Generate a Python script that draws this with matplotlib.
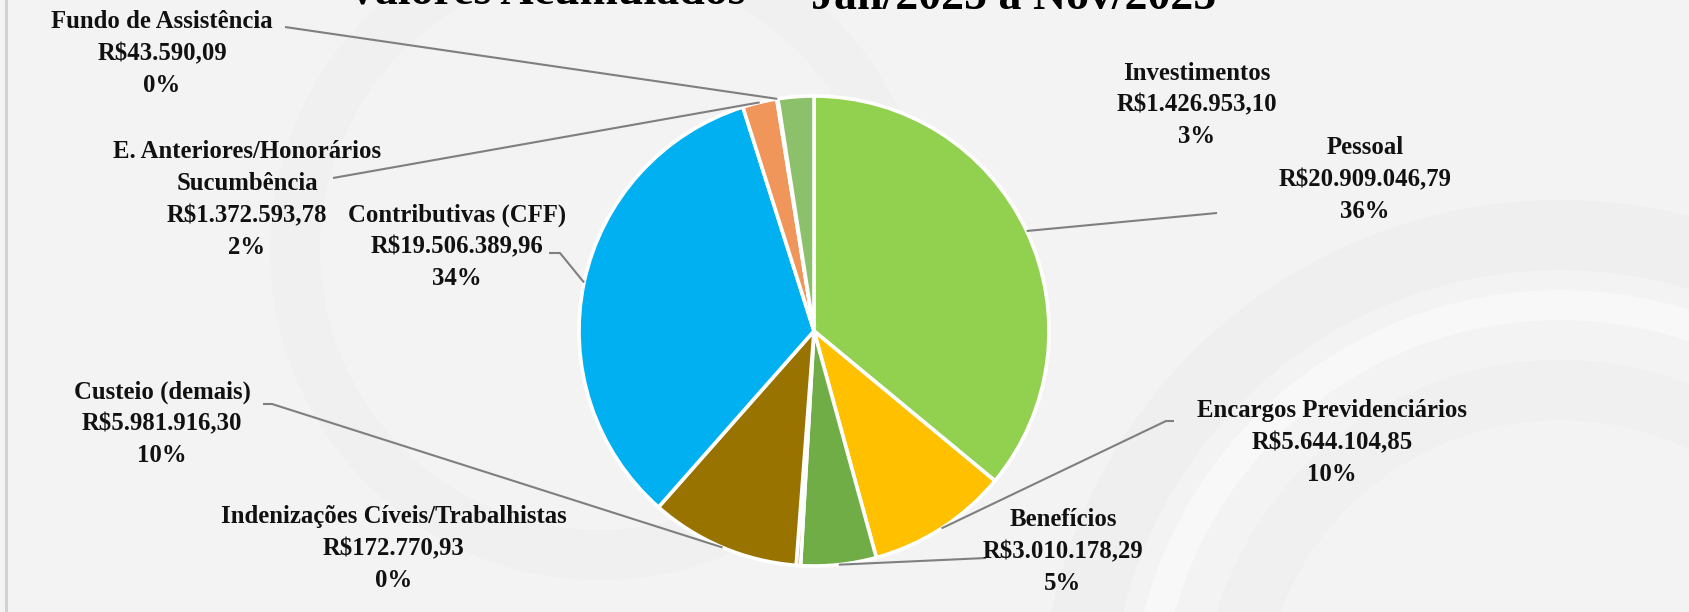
import matplotlib
matplotlib.use("Agg")
import matplotlib.pyplot as plt
from matplotlib.patches import Wedge
import numpy as np

# ---------------- data ----------------
categories = ["Pessoal", "Encargos Previdenciários", "Benefícios",
              "Indenizações Cíveis/Trabalhistas", "Custeio (demais)",
              "Contributivas (CFF)", "E. Anteriores/Honorários\nSucumbência",
              "Fundo de Assistência", "Investimentos"]
values = [20909046.79, 5644104.85, 3010178.29, 172770.93, 5981916.30,
          19506389.96, 1372593.78, 43590.09, 1426953.10]
value_labels = ["R$20.909.046,79", "R$5.644.104,85", "R$3.010.178,29",
                "R$172.770,93", "R$5.981.916,30", "R$19.506.389,96",
                "R$1.372.593,78", "R$43.590,09", "R$1.426.953,10"]
pct_labels = ["36%", "10%", "5%", "0%", "10%", "34%", "2%", "0%", "3%"]
colors = ["#92D050", "#FFC000", "#70AD47", "#D9825B", "#997300",
          "#00B0F0", "#F0965A", "#A9C48A", "#8CC06A"]
title_part1 = "Valores Acumulados –"
title_part2 = "Jan/2025 a Nov/2025"

W, H = 1689, 612
fig = plt.figure(figsize=(W / 100, H / 100), dpi=100)
fig.patch.set_facecolor("#F4F3F4")
ax = fig.add_axes([0, 0, 1, 1])
ax.set_xlim(0, W)
ax.set_ylim(0, H)
ax.set_aspect("equal")
ax.axis("off")

def Y(py):
    return H - py

# ---- faint watermark shapes ----
for (cx, cy, r, w, c) in [(1560, 720, 520, 70, "#EFEFF0"), (1560, 720, 430, 30, "#F8F8F8"),
                          (1560, 720, 360, 60, "#F0F0F1"), (600, 250, 330, 50, "#F0F0F0")]:
    ax.add_patch(Wedge((cx, Y(cy)), r, 0, 360, width=w, facecolor=c,
                       edgecolor="none", zorder=0))
ax.plot([6, 6], [0, H], color="#D2D2D2", lw=2.2, zorder=1)

# ---- pie ----
center = (814, Y(331))
radius = 235
wedges, _ = ax.pie(values, colors=colors, startangle=90, counterclock=False,
                   center=center, radius=radius, frame=True,
                   wedgeprops=dict(edgecolor="white", linewidth=2.6))
for w in wedges:
    w.set_zorder(3)
ax.set_xlim(0, W)
ax.set_ylim(0, H)
ax.axis("off")

def edge_point(i):
    w = wedges[i]
    a = np.deg2rad((w.theta1 + w.theta2) / 2)
    return center[0] + radius * np.cos(a), center[1] + radius * np.sin(a)

fp = dict(family=["Liberation Serif", "DejaVu Serif"], fontweight="bold",
          fontsize=17.8, color="#111111")

# label layout: (center x, y of first line) in pixels, leader path
layout = {
    0: ((1365, 148), [(1217, 213)]),
    1: ((1332, 411), [(1174, 421), (1166, 421)]),
    2: ((1063, 520), [(986, 558)]),
    3: ((394, 517), None),
    4: ((162, 392), [(263, 404), (272, 404)]),
    5: ((457, 215), [(549, 253), (560, 253)]),
    6: ((247, 152), [(333, 178)]),
    7: ((162, 22), [(285, 27)]),
    8: ((1197, 73), None),
}
lh = 31.8
for i, cat in enumerate(categories):
    (tx, ty), path = layout[i]
    lines = cat.split("\n") + [value_labels[i], pct_labels[i]]
    for k, s in enumerate(lines):
        ax.text(tx, Y(ty + k * lh), s, ha="center", va="center", zorder=5, **fp)
    if path:
        xs = [p[0] for p in path]
        ys = [Y(p[1]) for p in path]
        ex, ey = edge_point(i)
        xs.append(ex)
        ys.append(ey)
        ax.plot(xs, ys, color="#7F7F7F", lw=1.5, zorder=4, solid_capstyle="butt")

tfp = dict(family=["Liberation Serif", "DejaVu Serif"], fontweight="bold",
           fontsize=33, color="#000000")
fig.text(346 / W, 1 - 3 / H, title_part1, ha="left", va="baseline", **tfp)
fig.text(811 / W, 1 - 9 / H, title_part2, ha="left", va="baseline", **tfp)

fig.savefig("out.png", dpi=100, facecolor=fig.get_facecolor())
